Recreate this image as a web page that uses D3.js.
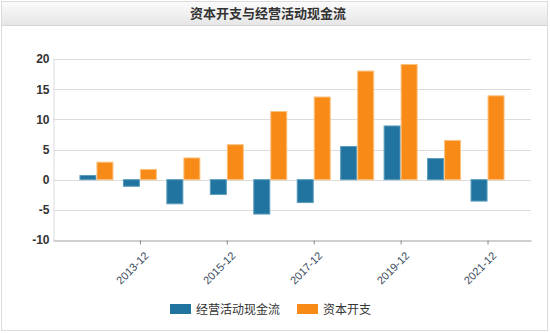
<!DOCTYPE html>
<html><head><meta charset="utf-8">
<script src="https://cdn.jsdelivr.net/npm/d3@7"></script>
<style>
html,body{margin:0;padding:0;background:#fff;}
svg{display:block;font-family:"Noto Sans CJK SC","Liberation Sans",sans-serif;}
</style></head>
<body>
<svg id="c" width="550" height="333"></svg>
<script>
const title = "资本开支与经营活动现金流";
const categories = ["2012-12","2013-12","2014-12","2015-12","2016-12","2017-12","2018-12","2019-12","2020-12","2021-12"];
const tickLabels = ["2013-12","2015-12","2017-12","2019-12","2021-12"];
const seriesNames = ["经营活动现金流","资本开支"];
const operatingCF = [0.7,-1.1,-4.0,-2.45,-5.7,-3.8,5.5,8.9,3.5,-3.55];
const capex = [2.9,1.7,3.6,5.8,11.3,13.7,18.0,19.1,6.5,13.9];
const yTicks = [-10,-5,0,5,10,15,20];
const colors = ["#21749f","#f88a17"];
const strokes = ["#5b9cbd","#fbc27f"];

(function(){
const svg = d3.select("#c");
const defs = svg.append("defs");
const g = defs.append("linearGradient").attr("id","tg").attr("x1",0).attr("x2",0).attr("y1",0).attr("y2",1);
g.append("stop").attr("offset","0%").attr("stop-color","#fbfbfb");
g.append("stop").attr("offset","100%").attr("stop-color","#e6e6e6");

// outer frame
svg.append("rect").attr("x",1.5).attr("y",1.5).attr("width",546).attr("height",329)
  .attr("fill","#fff").attr("stroke","#dcdcdc");
svg.append("rect").attr("x",2).attr("y",2).attr("width",545).attr("height",23).attr("fill","url(#tg)");
svg.append("line").attr("x1",2).attr("x2",547).attr("y1",25.5).attr("y2",25.5).attr("stroke","#d4d4d4");
svg.append("text").attr("x",268).attr("y",18).attr("text-anchor","middle")
  .attr("font-size",13).attr("font-weight","bold").attr("fill","#333").text(title);

const pl=53, pr=531, pt=59, pb=240;
const x = d3.scaleLinear().domain([0, categories.length+1]).range([pl,pr]);
const y = d3.scaleLinear().domain([-10,20]).range([pb,pt]);
const bw = 17;

// gridlines
svg.append("g").selectAll("line").data(yTicks.filter(t=>t!==-10)).join("line")
  .attr("x1",pl).attr("x2",pr).attr("y1",d=>Math.round(y(d))+0.5).attr("y2",d=>Math.round(y(d))+0.5)
  .attr("stroke","#dcdcdc").attr("stroke-width",1);

// y axis
const ya = svg.append("g").attr("transform",`translate(${pl+0.5},0)`)
  .call(d3.axisLeft(y).tickValues(yTicks).tickFormat(d=>String(d)).tickSize(0).tickPadding(4));
ya.select(".domain").attr("stroke","#dcdcdc");
ya.selectAll("text").attr("font-size",12).attr("font-weight","bold").attr("fill","#333")
  .attr("font-family","Liberation Sans, sans-serif");

// bars
const barsData = [];
categories.forEach((c,i)=>{
  barsData.push({i, s:0, v:operatingCF[i]});
  barsData.push({i, s:1, v:capex[i]});
});
svg.append("g").selectAll("rect").data(barsData).join("rect")
  .attr("x",d=>x(d.i+1) + (d.s===0 ? -bw : 0) + 0.5)
  .attr("y",d=>Math.min(y(d.v),y(0)))
  .attr("width",bw-1)
  .attr("height",d=>Math.abs(y(d.v)-y(0)))
  .attr("fill",d=>colors[d.s]).attr("stroke",d=>strokes[d.s]).attr("stroke-width",1);

// x axis
const xa = svg.append("g").attr("transform",`translate(0,${pb+0.5})`)
  .call(d3.axisBottom(x).tickValues(tickLabels.map(t=>categories.indexOf(t)+1))
    .tickFormat(v=>categories[v-1]).tickSize(4).tickSizeOuter(0));
xa.select(".domain").attr("stroke","#a0a0a0");
xa.selectAll(".tick line").attr("stroke","#888");
xa.selectAll("text").attr("font-size",11).attr("fill","#3a4a5e")
  .attr("font-family","Liberation Sans, sans-serif")
  .attr("text-anchor","end").attr("dy",0).attr("dx",0)
  .attr("transform","translate(4,11) rotate(-45)");

// legend
const lg = svg.append("g");
const lx = [170,297];
seriesNames.forEach((n,k)=>{
  lg.append("rect").attr("x",lx[k]).attr("y",304).attr("width",21).attr("height",10).attr("fill",colors[k]);
  lg.append("text").attr("x",lx[k]+26).attr("y",313.5).attr("font-size",12).attr("fill","#333").text(n);
});
})();
</script>
</body></html>
